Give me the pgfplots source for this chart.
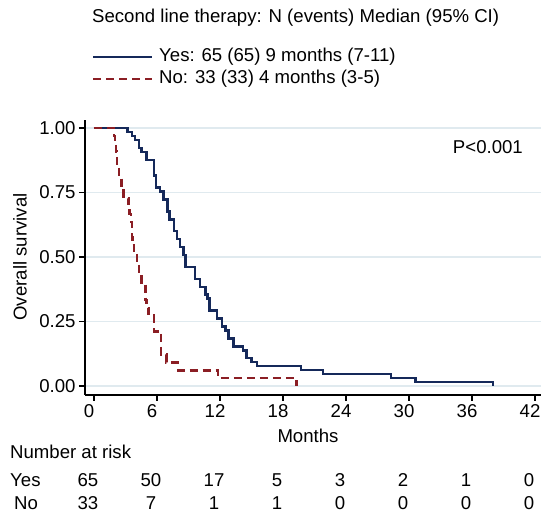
\documentclass[border=0pt]{standalone}
\usepackage{fontspec}
\setmainfont{Liberation Sans}
\usepackage{pgfplots}
\pgfplotsset{compat=1.18}
\definecolor{kmnavy}{HTML}{15295A}
\definecolor{kmred}{HTML}{8B1E24}
\definecolor{gridc}{HTML}{E0EAEF}

\begin{document}
\begin{tikzpicture}[x=1pt,y=1pt,font=\fontsize{18.6}{21}\selectfont]
\path[use as bounding box] (0,0) rectangle (541,513);
\begin{axis}[
  at={(85pt,118pt)}, anchor=south west, scale only axis,
  width=456pt, height=275pt,
  xmin=-0.857, xmax=42.57, ymin=-0.0349, ymax=1.031,
  axis x line*=bottom, axis y line*=left,
  axis line style={black, line width=1.5pt},
  xtick={0,6,...,42}, ytick={0,0.25,0.5,0.75,1},
  tick align=outside, major tick length=6pt,
  tick style={black, line width=1.2pt},
  ymajorgrids, grid style={gridc, line width=1.3pt},
  xticklabel style={xshift=-5pt},
  yticklabel style={/pgf/number format/.cd, fixed, fixed zerofill, precision=2},
  /pgf/number format/assume math mode=true,
  clip=false,
]
\addplot[const plot, kmnavy, line width=2.5pt] coordinates {
(0,1) (3.2,0.9846) (3.6,0.9692) (3.9,0.9538) (4.3,0.9231) (4.5,0.9077)
(5.0,0.8769) (5.7,0.8154) (5.9,0.7692) (6.3,0.7538) (6.6,0.7231) (7.0,0.6769)
(7.2,0.6462) (7.6,0.6000) (7.9,0.5692) (8.2,0.5385) (8.5,0.5077) (8.7,0.4615)
(9.6,0.4154) (10.1,0.3846) (10.6,0.3538) (10.8,0.3385) (11.0,0.2923)
(11.7,0.2615) (12.2,0.2308) (12.5,0.2154) (12.8,0.1846) (13.3,0.1538)
(14.2,0.1385) (14.5,0.1077) (15.0,0.0923) (15.5,0.0769) (19.7,0.0615)
(21.8,0.0462) (28.3,0.0308) (30.6,0.0154) (38.0,0)
};
\addplot[const plot, kmred, line width=2.5pt, dash pattern=on 8pt off 5pt] coordinates {
(0,1) (1.9,0.9697) (2.0,0.9394) (2.1,0.9091) (2.2,0.8485) (2.4,0.8182)
(2.6,0.7576) (2.8,0.7273) (3.3,0.6970) (3.4,0.6667) (3.5,0.6364) (3.6,0.5758)
(3.65,0.5455) (3.8,0.5152) (4.1,0.4848) (4.3,0.4242) (4.5,0.3939) (4.9,0.3333)
(5.0,0.3030) (5.2,0.2727) (5.7,0.2121) (6.4,0.1212) (6.9,0.0909) (8.0,0.0606)
(11.8,0.0303) (19.3,0)
};
% number at risk
\node[xshift=-6pt] at (axis cs:0,-0.364) {65};
\node[xshift=-6pt] at (axis cs:6,-0.364) {50};
\node[xshift=-6pt] at (axis cs:12,-0.364) {17};
\node[xshift=-6pt] at (axis cs:18,-0.364) {5};
\node[xshift=-6pt] at (axis cs:24,-0.364) {3};
\node[xshift=-6pt] at (axis cs:30,-0.364) {2};
\node[xshift=-6pt] at (axis cs:36,-0.364) {1};
\node[xshift=-6pt] at (axis cs:42,-0.364) {0};
\node[xshift=-6pt] at (axis cs:0,-0.453) {33};
\node[xshift=-6pt] at (axis cs:6,-0.453) {7};
\node[xshift=-6pt] at (axis cs:12,-0.453) {1};
\node[xshift=-6pt] at (axis cs:18,-0.453) {1};
\node[xshift=-6pt] at (axis cs:24,-0.453) {0};
\node[xshift=-6pt] at (axis cs:30,-0.453) {0};
\node[xshift=-6pt] at (axis cs:36,-0.453) {0};
\node[xshift=-6pt] at (axis cs:42,-0.453) {0};
\end{axis}
\node[rotate=90] at (20,256) {Overall survival};
\node at (308,77) {Months};
\node[anchor=west, inner sep=0pt] at (10,61) {Number at risk};
\node[anchor=west, inner sep=0pt] at (10,33) {Yes};
\node[anchor=west, inner sep=0pt] at (14,10) {No};
\node[anchor=east, inner sep=0pt] at (523,366) {P<0.001};
\node[anchor=west, inner sep=0pt] at (92,495) {Second line therapy: N (events) Median (95\% CI)};
\draw[kmnavy, line width=2.5pt] (93,456) -- (152,456);
\node[anchor=west, inner sep=0pt] at (159,456) {Yes: 65 (65) 9 months (7-11)};
\draw[kmred, line width=2.5pt, dash pattern=on 8pt off 5pt] (93,434) -- (152,434);
\node[anchor=west, inner sep=0pt] at (159,434) {No: 33 (33) 4 months (3-5)};
\end{tikzpicture}
\end{document}
